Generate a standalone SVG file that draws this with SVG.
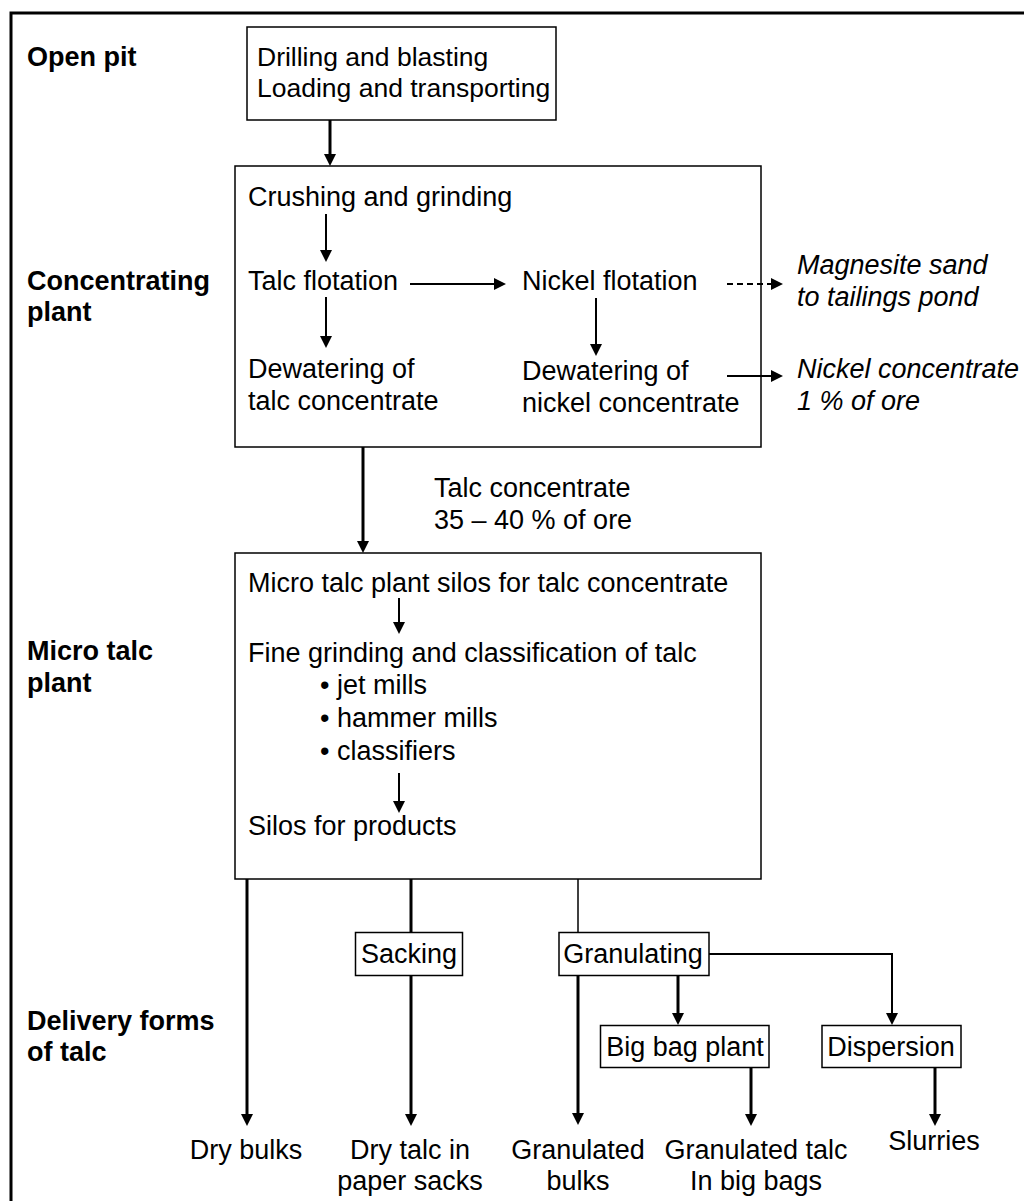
<svg xmlns="http://www.w3.org/2000/svg" width="1024" height="1201" viewBox="0 0 1024 1201">
<style>
text{font-family:"Liberation Sans",Arial,sans-serif;font-size:27px;fill:#000}
.b{font-weight:bold}
.i{font-style:italic}
.m{text-anchor:middle}
.s{font-size:26.5px}
.box{fill:#fff;stroke:#000;stroke-width:1.5}
.c{fill:none;stroke:#000}
.t1{stroke-width:1.5}
.t2{stroke-width:2}
.t3{stroke-width:3}
</style>
<defs>
<marker id="ah" markerUnits="userSpaceOnUse" markerWidth="14" markerHeight="14" refX="2" refY="6" orient="auto" viewBox="0 0 14 14">
<path d="M0,0 L12,6 L0,12 z" fill="#000"/>
</marker>
</defs>
<rect x="11" y="13" width="1040" height="1250" fill="#fff" stroke="#000" stroke-width="3"/>

<g id="labels">
<text class="b" x="27" y="66">Open pit</text>
<text class="b" x="27" y="290">Concentrating</text>
<text class="b" x="27" y="321">plant</text>
<text class="b" x="27" y="660">Micro talc</text>
<text class="b" x="27" y="692">plant</text>
<text class="b" x="27" y="1030">Delivery forms</text>
<text class="b" x="27" y="1061">of talc</text>
</g>

<g id="open-pit">
<rect class="box" x="247" y="27" width="309" height="93"/>
<text class="s" x="257" y="66">Drilling and blasting</text>
<text class="s" x="257" y="97">Loading and transporting</text>
</g>

<g id="concentrating-plant">
<rect class="box" x="235" y="166" width="526" height="281"/>
<text x="248" y="206">Crushing and grinding</text>
<text x="248" y="290">Talc flotation</text>
<text x="522" y="290">Nickel flotation</text>
<text x="248" y="378">Dewatering of</text>
<text x="248" y="410">talc concentrate</text>
<text x="522" y="380">Dewatering of</text>
<text x="522" y="412">nickel concentrate</text>
</g>

<g id="outputs-concentrating">
<text class="i" x="797" y="274">Magnesite sand</text>
<text class="i" x="797" y="306">to tailings pond</text>
<text class="i" x="797" y="378">Nickel concentrate</text>
<text class="i" x="797" y="410">1 % of ore</text>
<text x="434" y="497">Talc concentrate</text>
<text x="434" y="529">35 – 40 % of ore</text>
</g>

<g id="micro-talc-plant">
<rect class="box" x="235" y="553" width="526" height="326"/>
<text x="248" y="592">Micro talc plant silos for talc concentrate</text>
<text x="248" y="662">Fine grinding and classification of talc</text>
<text x="320" y="694">• jet mills</text>
<text x="320" y="727">• hammer mills</text>
<text x="320" y="760">• classifiers</text>
<text x="248" y="835">Silos for products</text>
</g>

<g id="sacking">
<rect class="box" x="355.5" y="932.5" width="107" height="43"/>
<text class="m" x="409" y="963">Sacking</text>
</g>
<g id="granulating">
<rect class="box" x="559" y="932.5" width="150" height="43"/>
<text class="m" x="633" y="963">Granulating</text>
</g>
<g id="big-bag-plant">
<rect class="box" x="600.5" y="1025.5" width="168.5" height="42"/>
<text class="m" x="685" y="1056">Big bag plant</text>
</g>
<g id="dispersion">
<rect class="box" x="822" y="1025.5" width="139" height="42"/>
<text class="m" x="891" y="1056">Dispersion</text>
</g>

<g id="products">
<text class="m" x="246" y="1159">Dry bulks</text>
<text class="m" x="410" y="1159">Dry talc in</text>
<text class="m" x="410" y="1190">paper sacks</text>
<text class="m" x="578" y="1159">Granulated</text>
<text class="m" x="578" y="1190">bulks</text>
<text class="m" x="756" y="1159">Granulated talc</text>
<text class="m" x="756" y="1190">In big bags</text>
<text class="m" x="934" y="1150">Slurries</text>
</g>

<g id="connectors">
<line class="c t3" x1="330" y1="120" x2="330" y2="156" marker-end="url(#ah)"/>
<line class="c t2" x1="326" y1="214" x2="326" y2="252" marker-end="url(#ah)"/>
<line class="c t2" x1="410" y1="284" x2="496" y2="284" marker-end="url(#ah)"/>
<line class="c t2" x1="727" y1="284" x2="773" y2="284" stroke-dasharray="6,4" marker-end="url(#ah)"/>
<line class="c t2" x1="326" y1="297" x2="326" y2="338" marker-end="url(#ah)"/>
<line class="c t2" x1="596" y1="298" x2="596" y2="346" marker-end="url(#ah)"/>
<line class="c t2" x1="727" y1="376" x2="773" y2="376" marker-end="url(#ah)"/>
<line class="c t3" x1="363" y1="447" x2="363" y2="543" marker-end="url(#ah)"/>
<line class="c t2" x1="399" y1="598" x2="399" y2="624" marker-end="url(#ah)"/>
<line class="c t2" x1="399" y1="773" x2="399" y2="803" marker-end="url(#ah)"/>
<line class="c t3" x1="247" y1="879" x2="247" y2="1116" marker-end="url(#ah)"/>
<line class="c t3" x1="411" y1="879" x2="411" y2="932.5"/>
<line class="c t3" x1="411" y1="975.5" x2="411" y2="1116" marker-end="url(#ah)"/>
<line class="c t1" x1="578" y1="879" x2="578" y2="932.5"/>
<line class="c t3" x1="578" y1="975.5" x2="578" y2="1115" marker-end="url(#ah)"/>
<line class="c t3" x1="678" y1="975.5" x2="678" y2="1015" marker-end="url(#ah)"/>
<polyline class="c t2" points="709,954 892,954 892,1015" marker-end="url(#ah)"/>
<line class="c t3" x1="751" y1="1067.5" x2="751" y2="1116" marker-end="url(#ah)"/>
<line class="c t3" x1="935" y1="1067.5" x2="935" y2="1116" marker-end="url(#ah)"/>
</g>
</svg>
